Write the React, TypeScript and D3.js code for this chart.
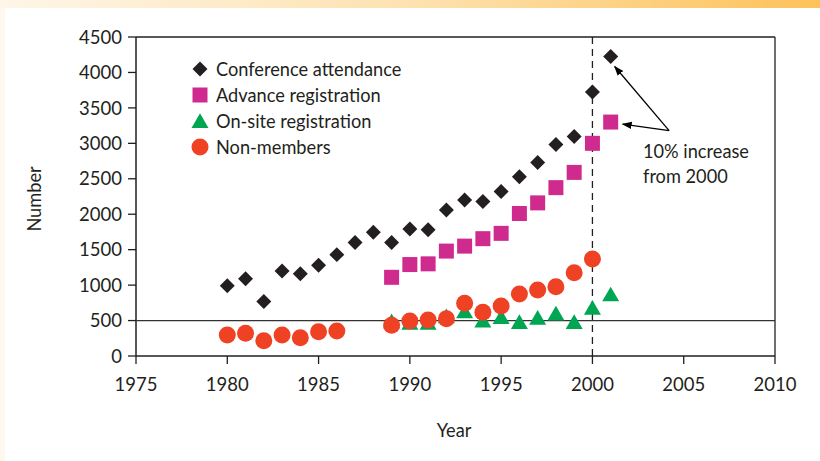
import React from "react";
import * as d3 from "d3";

// data
const attendanceYears = [1980, 1981, 1982, 1983, 1984, 1985, 1986, 1987, 1988, 1989, 1990, 1991, 1992, 1993, 1994, 1995, 1996, 1997, 1998, 1999, 2000, 2001];
const attendance = [990, 1090, 770, 1200, 1160, 1280, 1430, 1600, 1745, 1600, 1790, 1780, 2060, 2200, 2180, 2320, 2530, 2730, 2985, 3095, 3725, 4225];

const advanceYears = [1989, 1990, 1991, 1992, 1993, 1994, 1995, 1996, 1997, 1998, 1999, 2000, 2001];
const advance = [1110, 1290, 1300, 1480, 1550, 1655, 1730, 2010, 2160, 2375, 2590, 3000, 3300];

const onsiteYears = [1989, 1990, 1991, 1992, 1993, 1994, 1995, 1996, 1997, 1998, 1999, 2000, 2001];
const onsite = [460, 440, 440, 530, 600, 470, 520, 450, 510, 570, 450, 650, 840];

const nonMemberYears = [1980, 1981, 1982, 1983, 1984, 1985, 1986, 1989, 1990, 1991, 1992, 1993, 1994, 1995, 1996, 1997, 1998, 1999, 2000];
const nonMembers = [296, 320, 216, 296, 258, 343, 353, 433, 494, 508, 526, 743, 616, 705, 875, 931, 978, 1175, 1368];

const xTicks = [1975, 1980, 1985, 1990, 1995, 2000, 2005, 2010];
const yTicks = [0, 500, 1000, 1500, 2000, 2500, 3000, 3500, 4000, 4500];
const legendLabels = ["Conference attendance", "Advance registration", "On-site registration", "Non-members"];
const noteLines = ["10% increase", "from 2000"];

const FONT = "Lato, 'Open Sans', sans-serif";
const INK = "#231f20";
const COLORS = { diamond: "#231f20", square: "#cf2a8e", triangle: "#00a651", circle: "#ef4123" };
// reference typeface is narrower than Lato
const NARROW = 0.91;

const App: React.FC = () => {
  const width = 820;
  const height = 461;
  const margin = { top: 37, right: 45, bottom: 105, left: 136 };

  const x = d3.scaleLinear().domain([1975, 2010]).range([margin.left, width - margin.right]);
  const y = d3.scaleLinear().domain([0, 4500]).range([height - margin.bottom, margin.top]);

  const diamond = d3.symbol(d3.symbolSquare, 112)()!;
  const square = d3.symbol(d3.symbolSquare, 225)()!;
  const triangle = d3.symbol(d3.symbolTriangle, 125)()!;

  const x0 = x(1975), x1 = x(2010), yBottom = y(0), yTop = y(4500);

  // arrows from the note to the 2001 points
  const noteOrigin: [number, number] = [x(2004.2), y(3180)];
  const arrowTargets: [number, number][] = [
    [x(2001) + 4, y(4225) + 10],
    [x(2001) + 12, y(3300) + 2],
  ];

  return (
    <svg width={width} height={height} style={{ position: "absolute", left: 0, top: 0, background: "#fff" }}>
      <defs>
        <linearGradient id="topband" x1="0" x2="1" y1="0" y2="0">
          <stop offset="0" stopColor="#fef6e8" />
          <stop offset="0.5" stopColor="#fde2b0" />
          <stop offset="1" stopColor="#fdc25a" />
        </linearGradient>
        <marker id="arrow" viewBox="0 0 10 10" refX="9" refY="5" markerWidth="10" markerHeight="10" orient="auto-start-reverse" markerUnits="userSpaceOnUse">
          <path d="M0,1.3 L10,5 L0,8.7 Z" fill="#000" />
        </marker>
      </defs>
      <rect x={0} y={0} width={5} height={height} fill="#fef8ee" />
      <rect x={0} y={0} width={width} height={8} fill="url(#topband)" />

      {/* frame */}
      <line x1={x0} x2={x1} y1={yTop} y2={yTop} stroke={INK} strokeWidth={1.3} />
      <line x1={x1} x2={x1} y1={yTop} y2={yBottom} stroke={INK} strokeWidth={1.3} />
      <line x1={x0} x2={x1} y1={yBottom} y2={yBottom} stroke={INK} strokeWidth={1.5} />
      <line x1={x0} x2={x0} y1={yTop} y2={yBottom} stroke={INK} strokeWidth={1.5} />

      {/* reference lines */}
      <line x1={x0} x2={x1} y1={y(500)} y2={y(500)} stroke="#333" strokeWidth={1.2} />
      <line x1={x(2000)} x2={x(2000)} y1={yTop} y2={yBottom} stroke={INK} strokeWidth={1.3} strokeDasharray="7,5" />

      {/* y axis */}
      {yTicks.map((t) => (
        <g key={"y" + t} transform={`translate(0,${y(t)})`}>
          <line x1={x0 - 8} x2={x0} stroke={INK} strokeWidth={1.3} />
          <text x={x0 - 14} dy="0.36em" textAnchor="end" fontFamily={FONT} fontSize={18.5} fill={INK}>{t}</text>
        </g>
      ))}
      {/* x axis */}
      {xTicks.map((t) => (
        <g key={"x" + t} transform={`translate(${x(t)},0)`}>
          <line y1={yBottom} y2={yBottom + 8} stroke={INK} strokeWidth={1.3} />
          <text y={yBottom + 35} textAnchor="middle" fontFamily={FONT} fontSize={18.5} fill={INK}>{t}</text>
        </g>
      ))}
      <text transform={`translate(454,437) scale(${NARROW},1)`} textAnchor="middle" fontFamily={FONT} fontSize={20} fill={INK}>Year</text>
      <text transform={`translate(41,199) rotate(-90) scale(${NARROW},1)`} textAnchor="middle" fontFamily={FONT} fontSize={20} fill={INK}>Number</text>

      {/* series */}
      {attendance.map((v, i) => (
        <path key={"a" + i} d={diamond} transform={`translate(${x(attendanceYears[i])},${y(v)}) rotate(45)`} fill={COLORS.diamond} />
      ))}
      {advance.map((v, i) => (
        <path key={"r" + i} d={square} transform={`translate(${x(advanceYears[i])},${y(v)})`} fill={COLORS.square} />
      ))}
      {onsite.map((v, i) => (
        <path key={"o" + i} d={triangle} transform={`translate(${x(onsiteYears[i])},${y(v)})`} fill={COLORS.triangle} />
      ))}
      {nonMembers.map((v, i) => (
        <circle key={"n" + i} cx={x(nonMemberYears[i])} cy={y(v)} r={8.5} fill={COLORS.circle} />
      ))}

      {/* legend */}
      {legendLabels.map((label, i) => {
        const cy = 69 + i * 26;
        return (
          <g key={label} transform={`translate(200,${cy})`}>
            {i === 0 && <path d={diamond} transform="rotate(45)" fill={COLORS.diamond} />}
            {i === 1 && <path d={square} fill={COLORS.square} />}
            {i === 2 && <path d={triangle} transform="translate(0,2)" fill={COLORS.triangle} />}
            {i === 3 && <circle r={8.5} fill={COLORS.circle} />}
            <text transform={`translate(16,0) scale(${NARROW},1)`} dy="0.36em" fontFamily={FONT} fontSize={20} fill={INK}>{label}</text>
          </g>
        );
      })}

      {/* annotation */}
      {arrowTargets.map((t, i) => (
        <line key={"ar" + i} x1={noteOrigin[0]} y1={noteOrigin[1]} x2={t[0]} y2={t[1]} stroke="#000" strokeWidth={1.3} markerEnd="url(#arrow)" />
      ))}
      {noteLines.map((l, i) => (
        <text key={l} transform={`translate(643,${158 + i * 25}) scale(${NARROW},1)`} fontFamily={FONT} fontSize={20} fill={INK}>{l}</text>
      ))}
    </svg>
  );
};

export default App;
